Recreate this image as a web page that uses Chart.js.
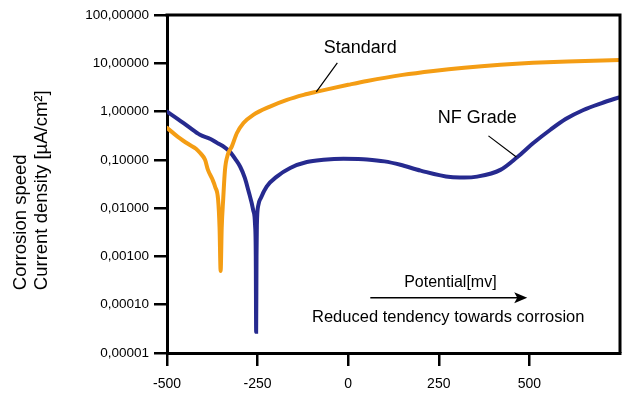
<!DOCTYPE html>
<html lang="en">
<head>
  <meta charset="UTF-8">
  <title>Corrosion speed vs potential</title>
  <script src="https://cdn.jsdelivr.net/npm/chart.js"></script>
  <style>
    body { margin: 0; background: white; }
    #wrap { width: 640px; height: 398px; position: relative; }
  </style>
</head>
<body>
  <div id="wrap"><canvas id="corrChart"></canvas></div>

  <script>
    // values (potential in mV, current density in µA/cm²)
    const xTicks = [-500, -250, 0, 250, 500];
    const yTicks = [0.00001, 0.0001, 0.001, 0.01, 0.1, 1, 10, 100];

    const standardX = [-500, -470, -440, -420, -409, -395, -387, -375, -367, -359, -355, -352, -349, -345, -340, -332, -321, -307, -289, -262, -216, -169, -123, -86, -55, 0, 52, 150, 235, 320, 420, 510, 605, 750];
    const standardY = [0.46, 0.30, 0.21, 0.17, 0.14, 0.1, 0.062, 0.04, 0.0275, 0.015, 0.004, 0.0005, 0.004, 0.015, 0.062, 0.13, 0.19, 0.36, 0.58, 0.855, 1.27, 1.75, 2.22, 2.59, 2.92, 3.58, 4.3, 5.75, 6.95, 8.1, 9.3, 10.2, 10.9, 11.7];

    const nfX = [-500, -470, -440, -409, -380, -362, -340, -326, -310, -298, -285, -276, -262, -257, -255, -254, -253, -252, -248, -241, -225, -197, -160, -114, -68, -13, 28, 52, 100, 144, 200, 282, 320, 356, 420, 467, 510, 558, 600, 649, 700, 750];
    const nfY = [1.0, 0.7, 0.48, 0.33, 0.27, 0.225, 0.18, 0.146, 0.1, 0.072, 0.042, 0.024, 0.009, 0.0045, 0.001, 0.0000275, 0.001, 0.0045, 0.0115, 0.0163, 0.028, 0.045, 0.068, 0.09, 0.1, 0.105, 0.104, 0.102, 0.093, 0.079, 0.06, 0.044, 0.043, 0.045, 0.062, 0.115, 0.22, 0.42, 0.7, 1.08, 1.5, 2.0];

    const ORANGE = '#F49D14';
    const BLUE = '#262A8F';
    const FONT = '"Liberation Sans", Arial, sans-serif';

    const toPoints = (xs, ys) => xs.map((x, i) => ({ x: x, y: ys[i] }));

    // frame, axis title and the text notes drawn on the plot
    const notes = {
      id: 'notes',
      afterDatasetsDraw(chart) {
        const { ctx, chartArea: a, scales: { x, y } } = chart;
        const px = v => x.getPixelForValue(v);
        const py = v => y.getPixelForValue(v);
        ctx.save();
        ctx.strokeStyle = '#000';
        ctx.lineWidth = 3;
        ctx.beginPath();
        ctx.moveTo(a.left - 1.5, a.top);
        ctx.lineTo(a.right, a.top);
        ctx.lineTo(a.right, a.bottom);
        ctx.stroke();

        ctx.fillStyle = '#000';
        ctx.textAlign = 'center';
        ctx.textBaseline = 'middle';
        ctx.font = '18px ' + FONT;
        ctx.fillText('Standard', px(33), py(20.8));
        ctx.fillText('NF Grade', px(356), py(0.74));
        ctx.font = '16px ' + FONT;
        ctx.fillText('Potential[mv]', px(282), py(0.000284));
        ctx.font = '16.5px ' + FONT;
        ctx.fillText('Reduced tendency towards corrosion', px(276), py(0.0000537));

        // leader lines
        ctx.lineWidth = 1.2;
        ctx.beginPath();
        ctx.moveTo(px(-30), py(10.2));
        ctx.lineTo(px(-88), py(2.56));
        ctx.moveTo(px(387), py(0.314));
        ctx.lineTo(px(464), py(0.115));
        ctx.stroke();

        // arrow
        const ay = py(0.000139);
        const x0 = px(61), x1 = px(494);
        ctx.lineWidth = 1.5;
        ctx.beginPath();
        ctx.moveTo(x0, ay);
        ctx.lineTo(x1 - 8, ay);
        ctx.stroke();
        ctx.beginPath();
        ctx.moveTo(x1, ay);
        ctx.lineTo(x1 - 13, ay - 5.5);
        ctx.lineTo(x1 - 10, ay);
        ctx.lineTo(x1 - 13, ay + 5.5);
        ctx.closePath();
        ctx.fill();

        // y axis title, two lines starting at the same height
        ctx.translate(0, py(0.0002));
        ctx.rotate(-Math.PI / 2);
        ctx.textAlign = 'left';
        ctx.font = '18.5px ' + FONT;
        ctx.fillText('Corrosion speed', 0, 21);
        ctx.fillText('Current density [µA/cm²]', 0, 42);
        ctx.restore();
      }
    };

    new Chart(document.getElementById('corrChart'), {
      type: 'line',
      data: {
        datasets: [
          {
            label: 'Standard',
            data: toPoints(standardX, standardY),
            borderColor: ORANGE,
            borderWidth: 4,
            borderCapStyle: 'round',
            pointRadius: 0,
            cubicInterpolationMode: 'monotone',
            fill: false
          },
          {
            label: 'NF Grade',
            data: toPoints(nfX, nfY),
            borderColor: BLUE,
            borderWidth: 4,
            borderCapStyle: 'round',
            pointRadius: 0,
            cubicInterpolationMode: 'monotone',
            fill: false
          }
        ]
      },
      options: {
        responsive: true,
        maintainAspectRatio: false,
        animation: false,
        layout: { padding: { top: 15, right: 20, left: 0, bottom: 0 } },
        plugins: { legend: { display: false }, tooltip: { enabled: false } },
        scales: {
          x: {
            type: 'linear',
            min: -500,
            max: 750,
            afterBuildTicks: s => { s.ticks = xTicks.map(v => ({ value: v })); },
            afterFit: s => { s.height = 45; },
            grid: { drawOnChartArea: false, color: '#000', lineWidth: 2.5, tickLength: 13 },
            border: { color: '#000', width: 3 },
            ticks: { color: '#000', padding: 10, font: { family: FONT, size: 14 } }
          },
          y: {
            type: 'logarithmic',
            min: 0.00001,
            max: 100,
            afterBuildTicks: s => { s.ticks = yTicks.map(v => ({ value: v })); },
            afterFit: s => { s.width = 167; },
            grid: { drawOnChartArea: false, color: '#000', lineWidth: 2.5, tickLength: 13 },
            border: { color: '#000', width: 3 },
            ticks: {
              color: '#000',
              padding: 5,
              autoSkip: false,
              font: { family: FONT, size: 13.5 },
              callback: v => Number(v).toFixed(5).replace('.', ',')
            }
          }
        }
      },
      plugins: [notes]
    });
  </script>
</body>
</html>
